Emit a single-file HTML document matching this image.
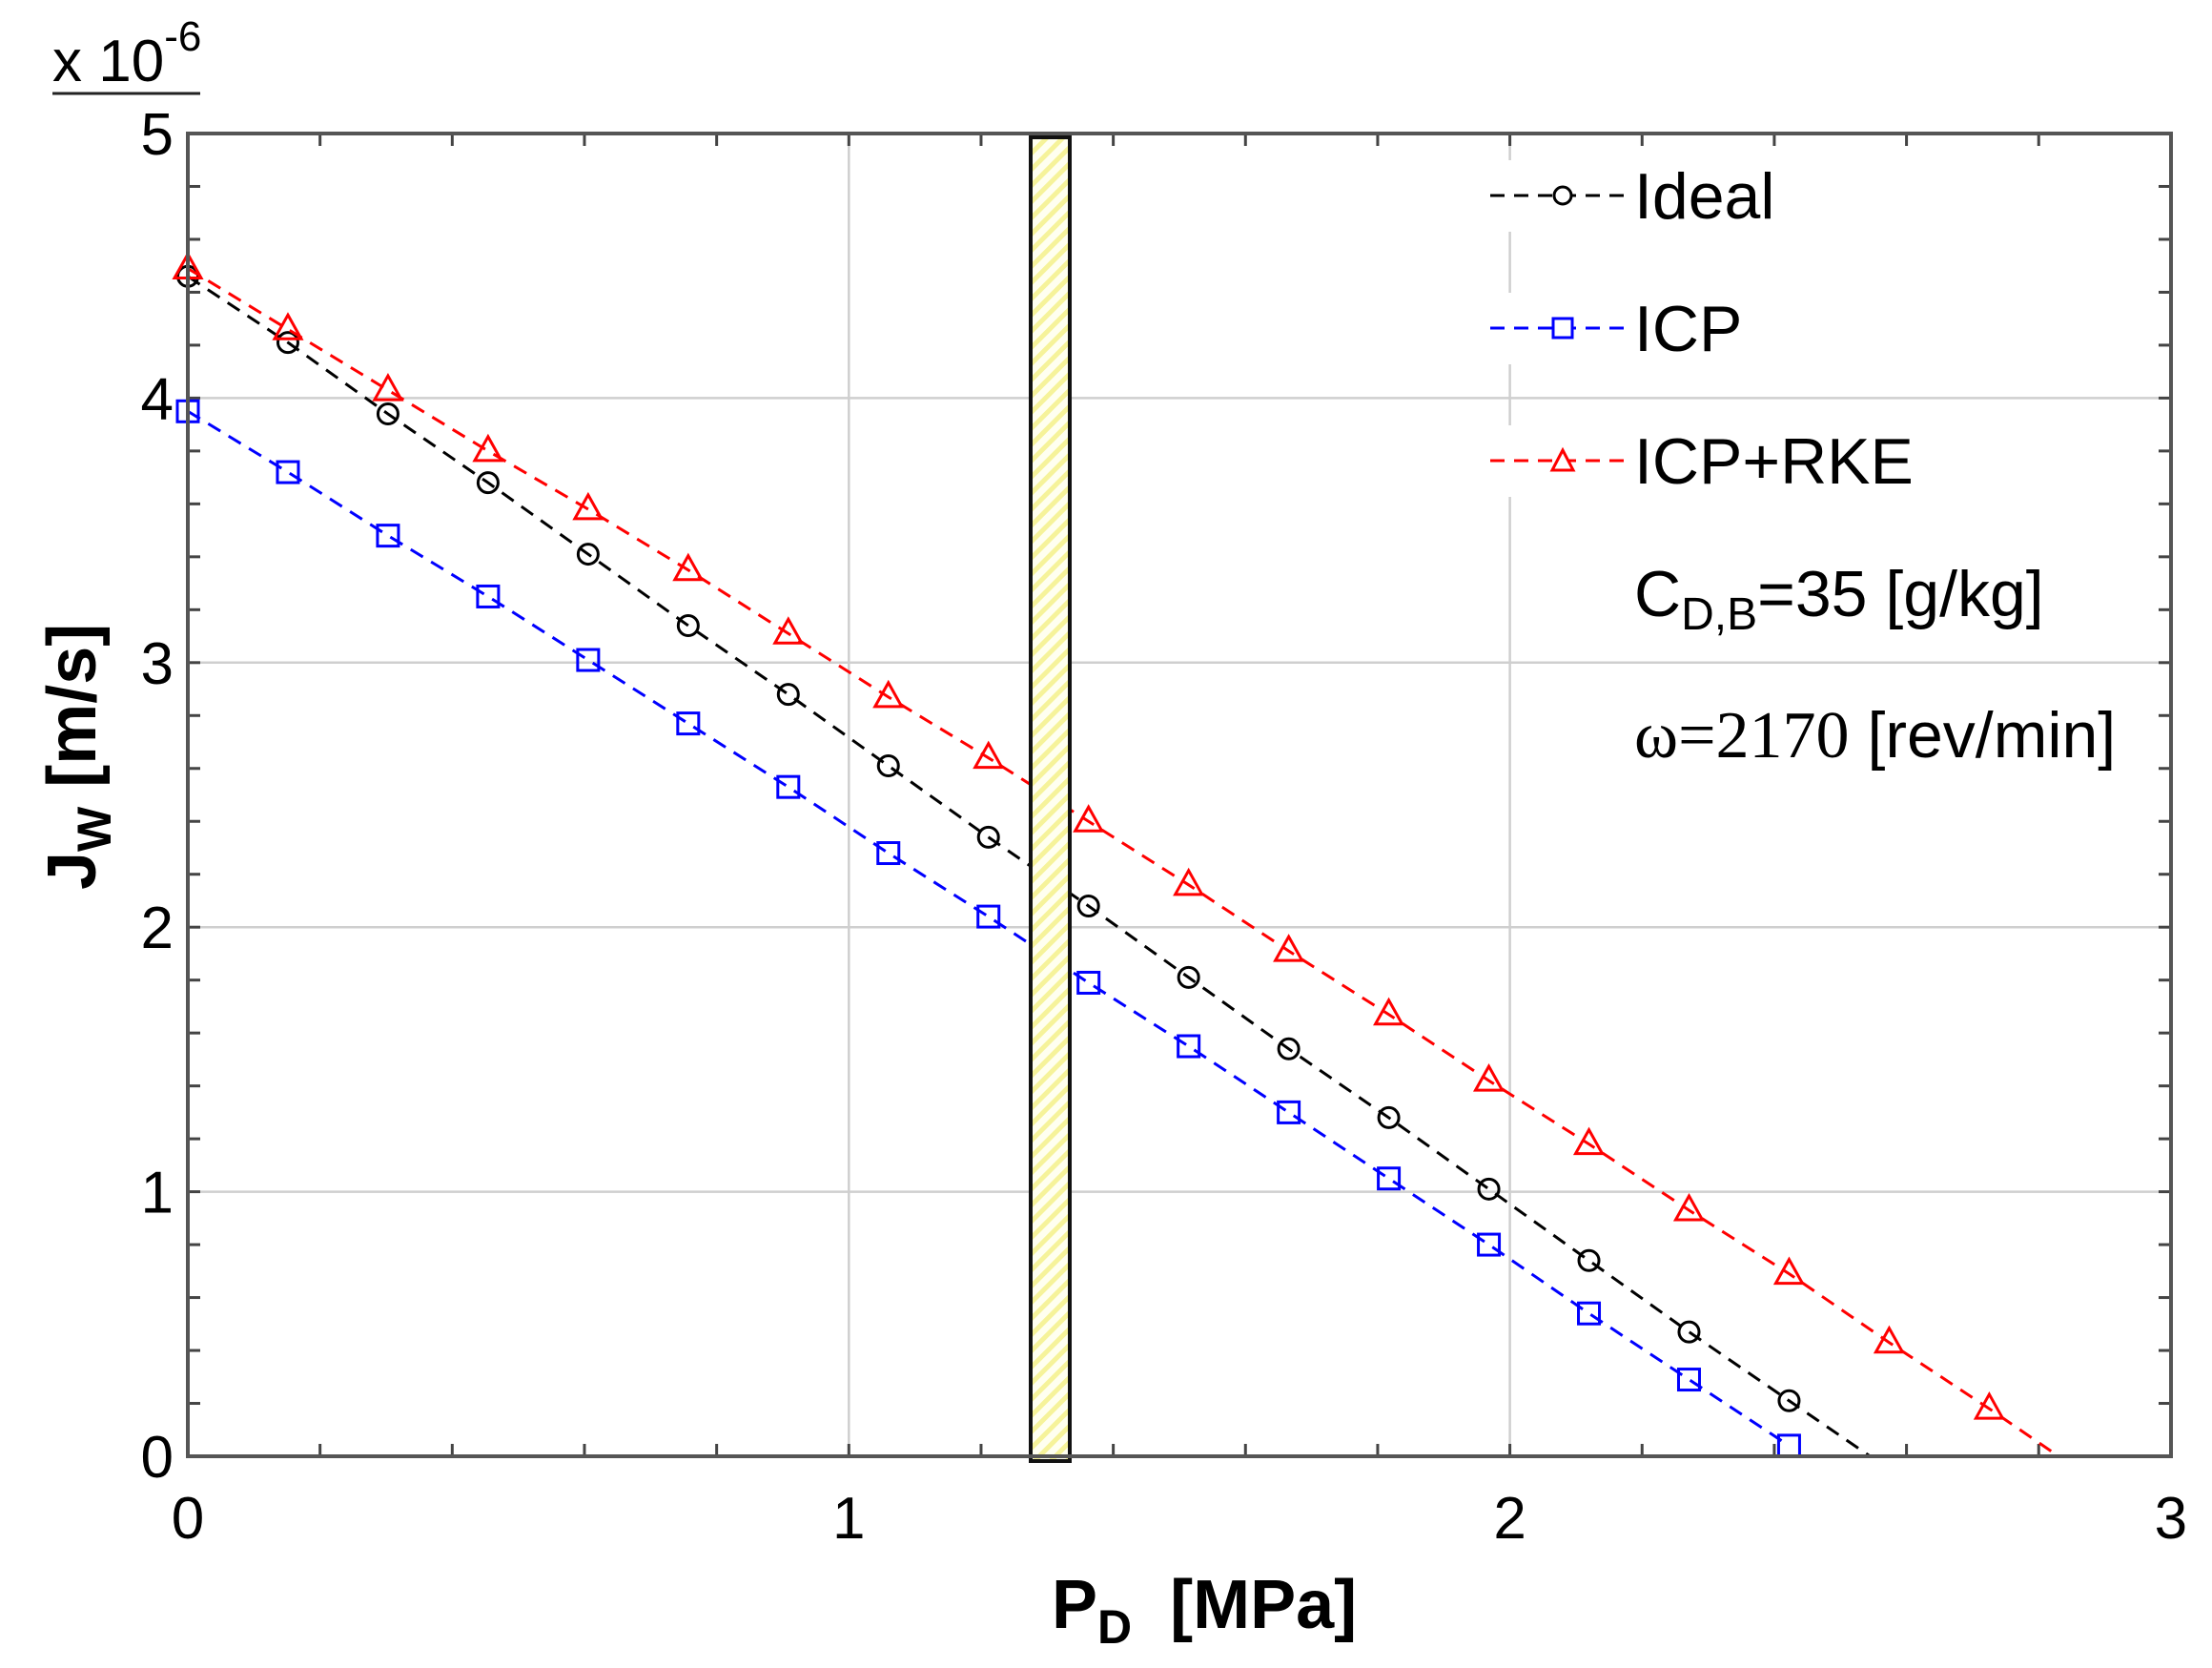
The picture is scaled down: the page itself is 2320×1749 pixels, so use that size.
<!DOCTYPE html>
<html><head><meta charset="utf-8"><style>
html,body{margin:0;padding:0;background:#fff;}
svg{display:block;}
text{font-family:"Liberation Sans",Arial,sans-serif;}
</style></head><body>
<svg id="s" width="2320" height="1749" viewBox="0 0 2320 1749" xmlns="http://www.w3.org/2000/svg">
<defs>
<pattern id="hatch" width="12" height="12" patternUnits="userSpaceOnUse" patternTransform="rotate(45)">
<rect width="12" height="12" fill="#fffff0"/>
<rect width="5" height="12" fill="#f6f39a"/>
</pattern>
</defs>
<g id="grid" stroke="#cfcfcf" stroke-width="2.5"></g>
<g id="ticks" stroke="#444" stroke-width="3"></g>
<g id="series"></g>
<rect x="1081" y="144" width="41" height="1388" fill="url(#hatch)" stroke="#111" stroke-width="4"/>
<rect x="197" y="140" width="2080" height="1387" fill="none" stroke="#555" stroke-width="4"/>
<g id="labels" font-size="62" fill="#000"></g>
<!-- legend -->
<rect x="1560" y="168" width="380" height="75" fill="#fff"/>
<rect x="1560" y="307" width="380" height="75" fill="#fff"/>
<rect x="1560" y="446" width="380" height="75" fill="#fff"/>
<g stroke-width="3" stroke-dasharray="15,10" fill="none">
<line x1="1563" y1="205" x2="1708" y2="205" stroke="#000"/>
<line x1="1563" y1="344" x2="1708" y2="344" stroke="#00f"/>
<line x1="1563" y1="483" x2="1708" y2="483" stroke="#f00"/>
</g>
<circle cx="1639" cy="205" r="9" fill="#fff" stroke="#000" stroke-width="3"/>
<rect x="1629" y="334" width="20" height="20" fill="#fff" stroke="#00f" stroke-width="3"/>
<polygon points="1639,472 1650,493 1628,493" fill="#fff" stroke="#f00" stroke-width="3"/>
<g font-size="68" fill="#000">
<text x="1714" y="229">Ideal</text>
<text x="1714" y="368">ICP</text>
<text x="1714" y="507">ICP+RKE</text>
<text x="1714" y="646">C<tspan font-size="48" dy="14">D,B</tspan><tspan dy="-14">=35 [g/kg]</tspan></text>
<text x="1714" y="794"><tspan font-family="Liberation Serif,serif" font-size="70">ω=2170</tspan> [rev/min]</text>
</g>
<!-- multiplier -->
<text x="55" y="85" font-size="62">x 10<tspan font-size="44" dy="-32">-6</tspan></text>
<line x1="55" y1="98" x2="210" y2="98" stroke="#222" stroke-width="3"/>
<!-- axis labels -->
<text x="1103" y="1707" font-size="72" font-weight="bold">P<tspan font-size="50" dy="16">D</tspan><tspan dy="-16" xml:space="preserve">  [MPa]</tspan></text>
<text transform="translate(100,933) rotate(-90)" font-size="72" font-weight="bold">J<tspan font-size="50" dy="16">W</tspan><tspan dy="-16"> [m/s]</tspan></text>
</svg>
<script>
const X0=197,XS=693.3,Y0=1527,YS=277.4;
const px=x=>X0+x*XS, py=y=>Y0-y*YS;
const NS="http://www.w3.org/2000/svg";
function el(t,a,p){const e=document.createElementNS(NS,t);for(const k in a)e.setAttribute(k,a[k]);document.getElementById(p).appendChild(e);return e;}
for(let i=1;i<3;i++)el('line',{x1:px(i),y1:140,x2:px(i),y2:1527},'grid');
for(let i=1;i<5;i++)el('line',{x1:197,y1:py(i),x2:2277,y2:py(i)},'grid');
for(let v=0.2;v<3;v+=0.2){const x=px(v);el('line',{x1:x,y1:1527,x2:x,y2:1514},'ticks');el('line',{x1:x,y1:140,x2:x,y2:153},'ticks');}
for(let v=0.2;v<5;v+=0.2){const y=py(v);el('line',{x1:197,y1:y,x2:210,y2:y},'ticks');el('line',{x1:2277,y1:y,x2:2264,y2:y},'ticks');}
for(let i=0;i<=3;i++){const t=el('text',{x:px(i),y:1613,'text-anchor':'middle'},'labels');t.textContent=i;}
for(let i=0;i<=5;i++){const t=el('text',{x:182,y:py(i)+22,'text-anchor':'end'},'labels');t.textContent=i;}
const dx=0.1514;
const R=[4.49,4.26,4.03,3.80,3.58,3.35,3.11,2.87,2.64,2.40,2.16,1.91,1.67,1.42,1.18,0.93,0.69,0.43,0.18];
const B=[3.95,3.72,3.48,3.25,3.01,2.77,2.53,2.28,2.04,1.79,1.55,1.30,1.05,0.80,0.54,0.29,0.04];
const K=[4.46,4.21,3.94,3.68,3.41,3.14,2.88,2.61,2.34,2.08,1.81,1.54,1.28,1.01,0.74,0.47,0.21];
function series(d,col,end,mk){
 let pts=d.map((y,i)=>[px(i*dx),py(y)]);
 if(end)pts.push([px(end),py(0)]);
 el('polyline',{points:pts.map(p=>p.join(',')).join(' '),fill:'none',stroke:col,'stroke-width':3,'stroke-dasharray':'15,10'},'series');
 d.forEach((y,i)=>{const x=px(i*dx),yy=py(y);
  if(mk=='c')el('circle',{cx:x,cy:yy,r:10.5,fill:'none',stroke:col,'stroke-width':3},'series');
  else if(mk=='s')el('rect',{x:x-11,y:yy-11,width:22,height:22,fill:'none',stroke:col,'stroke-width':3},'series');
  else el('polygon',{points:`${x},${yy-15} ${x+14},${yy+10} ${x-14},${yy+10}`,fill:'none',stroke:col,'stroke-width':3},'series');
 });
}
series(K,'#000',2.545,'c');
series(B,'#00f',null,'s');
series(R,'#f00',2.83,'t');
</script>
</body></html>
